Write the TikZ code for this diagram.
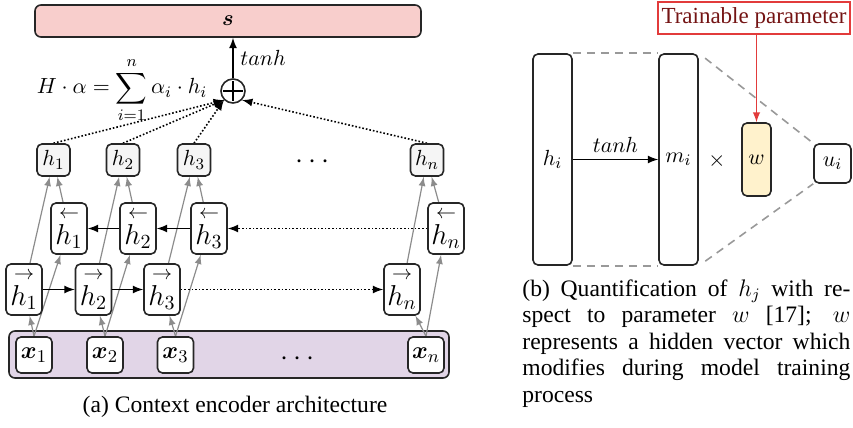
\documentclass[tikz,border=0pt]{standalone}
\usepackage{fontspec}
\setmainfont{Liberation Serif}
\usepackage{amsmath,bm}
\definecolor{spink}{HTML}{F8CECC}
\definecolor{xpurple}{HTML}{E1D5E7}
\definecolor{cellgray}{HTML}{F5F5F5}
\definecolor{wyellow}{HTML}{FFF2CC}
\definecolor{tred}{HTML}{E23B3B}
\definecolor{tdark}{HTML}{741414}
\definecolor{linkgray}{HTML}{8C8C8C}
\pgfdeclarelayer{back}
\pgfdeclarelayer{lines}
\pgfsetlayers{back,lines,main}
\begin{document}
\begin{tikzpicture}[>=latex, x=0.5pt, y=-0.5pt,
    mfont/.style={font=\fontsize{10.8}{13}\selectfont},
    cell/.style={draw=black!85, line width=0.8pt, rounded corners=2.5pt, fill=white, inner sep=0pt, mfont},
    hcell/.style={cell, fill=cellgray, minimum width=16.5pt, minimum height=16pt},
    dcell/.style={cell, minimum width=18pt, minimum height=25.5pt, font=\fontsize{14}{16}\selectfont},
    xcell/.style={cell, minimum size=18pt, font=\fontsize{12.5}{14}\selectfont},
    link/.style={->, draw=linkgray, line width=0.6pt},
    flow/.style={->, line width=0.8pt},
    att/.style={->, densely dotted, line width=0.8pt},
    zoomline/.style={dash pattern=on 4pt off 3pt, draw=gray!80, line width=0.8pt},
    caption/.style={font=\fontsize{11.8}{13.3}\selectfont, inner sep=0pt}]
\useasboundingbox (0,0) rectangle (853,428);

% (a) context encoder
\node[draw=black!85, line width=0.8pt, rounded corners=3pt, fill=spink, minimum width=193pt, minimum height=16pt, mfont] (s) at (228,21) {$\bm{s}$};
\node[circle, draw=black!85, line width=0.8pt, fill=white, minimum size=12pt, inner sep=0pt] (plus) at (233,91) {};
\draw[line width=0.8pt] ([xshift=1.5pt]plus.west) -- ([xshift=-1.5pt]plus.east);
\draw[line width=0.8pt] ([yshift=-1.5pt]plus.north) -- ([yshift=1.5pt]plus.south);
\draw[flow] (plus.north) -- node[right, mfont]{$tanh$} (plus.north |- s.south);
\node[mfont] (eq) at (122,90) {$\displaystyle H\cdot\alpha=\sum_{i=1}^{n}\alpha_i\cdot h_i$};

\foreach \n/\a/\b/\c/\d in {1/53.5/69/24/34, 2/123/138/93.5/105, 3/194/209/162/175.5, n/427/446/402/426}{
    \node[hcell] (h\n) at (\a,160) {$h_\n$};
    \node[dcell] (bh\n) at (\b,228.5) {$\overset{\leftarrow}{h_\n}$};
    \node[dcell] (fh\n) at (\c,289.5) {$\overset{\rightarrow}{h_\n}$};
    \node[xcell] (x\n) at (\d,355) {$\bm{x}_\n$};
}
\node[font=\fontsize{15}{16}\selectfont] (hdots) at (315,162) {$\cdots$};
\node[font=\fontsize{15}{16}\selectfont] (xdots) at (300,359) {$\cdots$};

\begin{pgfonlayer}{back}
\node[draw=black!85, line width=0.8pt, rounded corners=3pt, fill=xpurple, minimum width=220pt, minimum height=23.5pt] (inrow) at (229,354.5) {};
\end{pgfonlayer}
\begin{pgfonlayer}{lines}
\foreach \n in {1,2,3,n}{
    \draw[link] (x\n.north) -- (fh\n);
    \draw[link] (x\n.north) -- (bh\n);
    \draw[link] (fh\n) -- (h\n);
    \draw[link] (bh\n) -- (h\n);
}
\foreach \n in {1,2,3}
    \draw[att] (h\n.north) -- (plus.south west);
\draw[att] (hn.north) -- (plus.south east);
\end{pgfonlayer}

\draw[flow] (fh1) -- (fh2);
\draw[flow] (fh2) -- (fh3);
\draw[att] (fh3) -- (fhn);
\draw[flow] (bh2) -- (bh1);
\draw[flow] (bh3) -- (bh2);
\draw[att] (bhn) -- (bh3);

\node[caption] (capa) at (235,407) {(a) Context encoder architecture};

% (b) quantification
\node[cell, minimum width=19.5pt, minimum height=105.5pt] (hi) at (552.5,159.5) {$h_i$};
\node[cell, minimum width=19.5pt, minimum height=105.5pt] (mi) at (678.5,159.5) {$m_i$};
\draw[flow] (hi) -- node[above, mfont]{$tanh$} (mi);
\node[mfont] (times) at (717,161) {$\times$};
\node[cell, fill=wyellow, minimum width=14.5pt, minimum height=36.5pt] (w) at (756.5,159.5) {$w$};
\node[cell, minimum width=18.5pt, minimum height=19.5pt] (ui) at (832.5,163.5) {$u_i$};
\node[draw=tred, line width=0.8pt, text=tdark, minimum width=96pt, minimum height=16pt, inner sep=0pt, font=\fontsize{11.5}{13}\selectfont] (train) at (754,18) {Trainable parameter};
\draw[->, draw=tred, line width=0.7pt] (train.south -| w.north) -- (w.north);

\draw[zoomline] (hi.north east) -- (mi.north west);
\draw[zoomline] (hi.south east) -- (mi.south west);
\draw[zoomline, shorten <=4pt] (mi.north east) -- (ui.north west);
\draw[zoomline, shorten <=4pt] (mi.south east) -- (ui.south west);

\node[caption, anchor=north west, text width=164pt, align=justify] (capb) at (522,279) {(b) Quantification of $h_j$ with re-\linebreak spect to parameter $w$ [17]; $w$\linebreak represents a hidden vector which\linebreak modifies during model training\linebreak process};
\end{tikzpicture}
\end{document}
